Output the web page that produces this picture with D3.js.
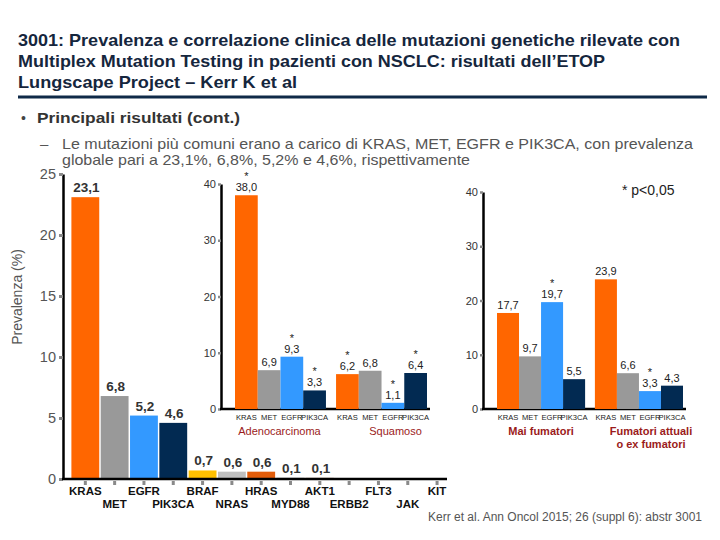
<!DOCTYPE html>
<html><head><meta charset="utf-8">
<script src="https://cdn.jsdelivr.net/npm/d3@7"></script>
<style>body{margin:0;background:#fff}svg{display:block;font-family:"Liberation Sans",Arial,sans-serif}</style>
</head><body><svg id="c" width="720" height="540"></svg>
<script>
// ---------- data ----------
const titleLines = [
  "3001: Prevalenza e correlazione clinica delle mutazioni genetiche rilevate con",
  "Multiplex Mutation Testing in pazienti con NSCLC: risultati dell\u2019ETOP",
  "Lungscape Project \u2013 Kerr K et al"
];
const bulletMain = "Principali risultati (cont.)";
const bulletSub = [
  "Le mutazioni pi\u00f9 comuni erano a carico di KRAS, MET, EGFR e PIK3CA, con prevalenza",
  "globale pari a 23,1%, 6,8%, 5,2% e 4,6%, rispettivamente"
];
const mutations = ["KRAS","MET","EGFR","PIK3CA","BRAF","NRAS","HRAS","MYD88","AKT1","ERBB2","FLT3","JAK","KIT"];
const prevalence = [23.1,6.8,5.2,4.6,0.7,0.6,0.6,0.1,0.1,0,0,0,0];
const mutationColors = ["#FF6600","#999999","#3399FF","#022A52","#FFC000","#BFBFBF","#E35D0B","#A6A6A6","#C9A48F","#999","#999","#999","#999"];
const prevalenceTicks = [0,5,10,15,20,25];
const yAxisTitle = "Prevalenza (%)";

const subMutations = ["KRAS","MET","EGFR","PIK3CA"];
const subColors = ["#FF6600","#999999","#3399FF","#022A52"];
const subTicks = [0,10,20,30,40];
const histologyGroups = ["Adenocarcinoma","Squamoso"];
const adenoValues = [38.0,6.9,9.3,3.3];
const squamValues = [6.2,6.8,1.1,6.4];
const adenoSig = [1,0,1,1];
const squamSig = [1,0,1,1];
const smokingGroups = ["Mai fumatori","Fumatori attuali|o ex fumatori"];
const neverValues = [17.7,9.7,19.7,5.5];
const smokerValues = [23.9,6.6,3.3,4.3];
const neverSig = [0,0,1,0];
const smokerSig = [0,0,1,0];
const sigNote = "* p<0,05";
const footnote = "Kerr et al. Ann Oncol 2015; 26 (suppl 6): abstr 3001";

const fmt = v => v.toFixed(1).replace(".", ",");
const svg = d3.select("#c");

// ---------- header ----------
const titleWidths = [662, 587, 279];
titleLines.forEach((t, i) => {
  svg.append("text").attr("x", 18).attr("y", 46 + i * 21)
    .attr("font-family", "'Liberation Sans Narrow','Liberation Sans',Arial,sans-serif")
    .attr("font-weight", "bold").attr("font-size", 17).attr("fill", "#15263D")
    .attr("textLength", titleWidths[i]).attr("lengthAdjust", "spacingAndGlyphs")
    .text(t);
});
svg.append("line").attr("x1", 18).attr("x2", 707).attr("y1", 97).attr("y2", 97)
  .attr("stroke", "#0F2A48").attr("stroke-width", 3);

svg.append("text").attr("x", 21).attr("y", 123).attr("font-size", 14).attr("fill", "#444").text("\u2022");
svg.append("text").attr("x", 37).attr("y", 123).attr("font-size", 15).attr("font-weight", "bold")
  .attr("fill", "#333").attr("textLength", 203).attr("lengthAdjust", "spacingAndGlyphs").text(bulletMain);
svg.append("text").attr("x", 40).attr("y", 149).attr("font-size", 15).attr("fill", "#555").text("\u2013");
const subW = [631, 408];
bulletSub.forEach((t, i) => {
  svg.append("text").attr("x", 62).attr("y", 149 + i * 16).attr("font-size", 15).attr("fill", "#555")
    .attr("textLength", subW[i]).attr("lengthAdjust", "spacingAndGlyphs").text(t);
});

// ---------- main chart ----------
const mainAxisX = 63;
const yMain = d3.scaleLinear().domain([0, 25]).range([479, 174]);
const xMain = d3.scaleBand().domain(mutations).range([71.4, 451]).paddingInner(0.05);

const styleAxis = (s, tickW) => {
  s.select(".domain").attr("stroke", "#000").attr("stroke-width", 2.5);
  s.selectAll(".tick line").attr("stroke", "#8a8a8a").attr("stroke-width", tickW);
};

svg.append("g").attr("transform", `translate(${mainAxisX},0)`)
  .call(d3.axisLeft(yMain).tickValues(prevalenceTicks).tickSize(4).tickSizeOuter(0).tickPadding(3))
  .call(s => styleAxis(s, 3))
  .call(s => s.selectAll(".tick text").attr("font-size", 14.5).attr("fill", "#555").attr("font-family", "'Liberation Sans',Arial,sans-serif"));

svg.append("text").attr("transform", `translate(22,297) rotate(-90)`).attr("text-anchor", "middle")
  .attr("font-size", 14).attr("fill", "#555").text(yAxisTitle);

const mainBars = mutations.map((m, i) => ({m, v: prevalence[i], c: mutationColors[i], i}));
svg.append("g").selectAll("rect").data(mainBars.filter(d => d.v > 0)).join("rect")
  .attr("x", d => xMain(d.m)).attr("width", xMain.bandwidth())
  .attr("y", d => yMain(d.v)).attr("height", d => yMain(0) - yMain(d.v))
  .attr("fill", d => d.c);
svg.append("g").selectAll("text").data(mainBars.filter(d => d.v > 0)).join("text")
  .attr("x", d => xMain(d.m) + xMain.bandwidth() / 2 + 1)
  .attr("y", d => yMain(d.v) - 5)
  .attr("text-anchor", "middle").attr("font-size", 13.5).attr("font-weight", "bold").attr("fill", "#333")
  .text(d => fmt(d.v));

const xAx = svg.append("g").attr("transform", `translate(0,${yMain(0)})`)
  .call(d3.axisBottom(xMain).tickSize(6).tickSizeOuter(0).tickPadding(3));
xAx.select(".domain").remove();
xAx.selectAll(".tick line").attr("stroke", "#8a8a8a").attr("stroke-width", 3).attr("y1", 2);
xAx.selectAll(".tick text").attr("font-size", 11.5).attr("font-weight", "bold").attr("fill", "#111")
  .attr("font-family", "'Liberation Sans',Arial,sans-serif")
  .attr("dy", null).attr("y", (d, i) => i % 2 === 0 ? 16 : 29);
svg.append("line").attr("x1", mainAxisX - 1).attr("x2", 447).attr("y1", yMain(0)).attr("y2", yMain(0))
  .attr("stroke", "#000").attr("stroke-width", 2.5);

// ---------- sub charts ----------
function subChart(cfg) {
  const y = d3.scaleLinear().domain([0, 40]).range([cfg.yZero, cfg.yTop]);
  const gx = d3.scaleBand().domain(cfg.groups).range([cfg.xStart, cfg.xEnd]).paddingInner(0.1);
  const ix = d3.scaleBand().domain(subMutations).range([0, gx.bandwidth()]);
  const g = svg.append("g");
  g.append("g").attr("transform", `translate(${cfg.axisX},0)`)
    .call(d3.axisLeft(y).tickValues(subTicks).tickSize(3).tickSizeOuter(0).tickPadding(2))
    .call(s => styleAxis(s, 2.5))
    .call(s => s.selectAll(".tick text").attr("font-size", 11).attr("fill", "#333").attr("font-family", "'Liberation Sans',Arial,sans-serif"));
  g.append("line").attr("x1", cfg.axisX - 1).attr("x2", cfg.xEnd + 3).attr("y1", y(0)).attr("y2", y(0))
    .attr("stroke", "#000").attr("stroke-width", 2.5);
  cfg.groups.forEach((grp, gi) => {
    const data = subMutations.map((m, i) => ({m, v: cfg.values[gi][i], s: cfg.sig[gi][i], c: subColors[i]}));
    const gg = g.append("g").attr("transform", `translate(${gx(grp)},0)`);
    gg.selectAll("rect").data(data).join("rect")
      .attr("x", d => ix(d.m)).attr("width", ix.bandwidth())
      .attr("y", d => y(d.v)).attr("height", d => y(0) - y(d.v)).attr("fill", d => d.c);
    gg.selectAll("text.v").data(data).join("text").attr("class", "v")
      .attr("x", d => ix(d.m) + ix.bandwidth() / 2).attr("y", d => y(d.v) - 4)
      .attr("text-anchor", "middle").attr("font-size", 11).attr("fill", "#222").text(d => fmt(d.v));
    gg.selectAll("text.s").data(data.filter(d => d.s)).join("text").attr("class", "s")
      .attr("x", d => ix(d.m) + ix.bandwidth() / 2).attr("y", d => y(d.v) - 15)
      .attr("text-anchor", "middle").attr("font-size", 11).attr("fill", "#222").text("*");
    gg.selectAll("text.c").data(data).join("text").attr("class", "c")
      .attr("x", d => ix(d.m) + ix.bandwidth() / 2).attr("y", y(0) + 11)
      .attr("text-anchor", "middle").attr("font-size", 7.6).attr("fill", "#222").text(d => d.m);
    const lines = grp.split("|");
    lines.forEach((ln, li) => {
      g.append("text").attr("x", gx(grp) + gx.bandwidth() / 2 + cfg.labelDx[gi]).attr("y", cfg.yZero + 26 + li * 13)
        .attr("text-anchor", "middle").attr("font-size", 11).attr("font-weight", cfg.labelBold ? "bold" : "normal")
        .attr("fill", "#9B1B1B").text(ln);
    });
  });
}

subChart({axisX: 221, yZero: 409, yTop: 184, xStart: 235, xEnd: 427,
  groups: histologyGroups, values: [adenoValues, squamValues], sig: [adenoSig, squamSig],
  labelDx: [-1, 14], labelBold: false});
subChart({axisX: 483, yZero: 409, yTop: 192, xStart: 497, xEnd: 683,
  groups: smokingGroups, values: [neverValues, smokerValues], sig: [neverSig, smokerSig],
  labelDx: [0, 12], labelBold: true});

svg.append("text").attr("x", 622).attr("y", 195).attr("font-size", 14).attr("fill", "#222").text(sigNote);
svg.append("text").attr("x", 428).attr("y", 521).attr("font-size", 12).attr("fill", "#555")
  .attr("textLength", 274).attr("lengthAdjust", "spacingAndGlyphs").text(footnote);
</script></body></html>
